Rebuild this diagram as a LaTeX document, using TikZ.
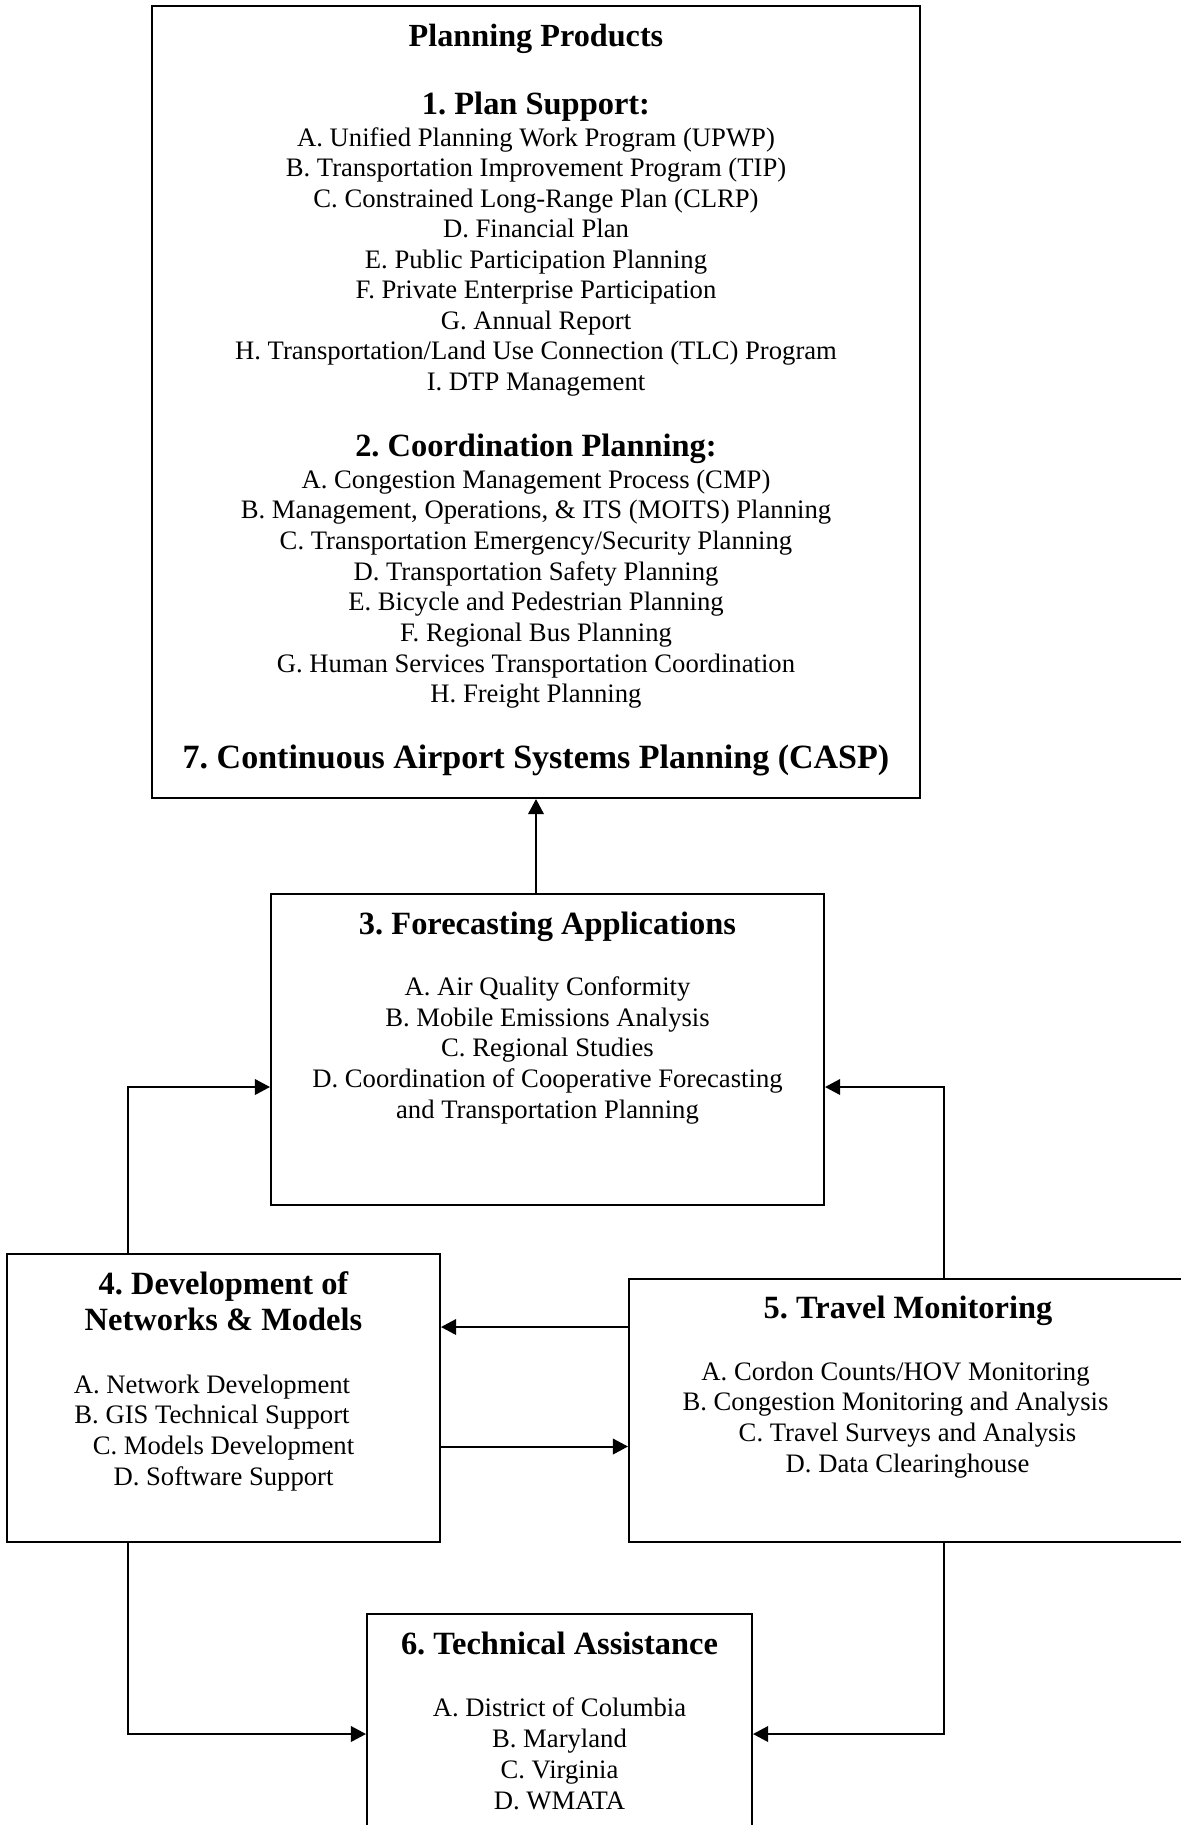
\documentclass[tikz,border=0pt]{standalone}
\usepackage{fontspec}
\setmainfont{Liberation Serif}
\usetikzlibrary{arrows.meta,fit,calc}
\frenchspacing
\tikzset{
  body/.style={anchor=base, inner sep=0pt, font=\fontsize{12}{14}\selectfont},
  headA/.style={anchor=base, inner sep=0pt, font=\fontsize{14.5}{16}\selectfont\bfseries},
  headB/.style={anchor=base, inner sep=0pt, font=\fontsize{14.6}{16}\selectfont\bfseries},
  headC/.style={anchor=base, inner sep=0pt, font=\fontsize{15.3}{17}\selectfont\bfseries},
  boxed/.style={draw, line width=0.9pt, inner sep=0pt},
  conn/.style={line width=0.9pt},
  arr/.style={line width=0.9pt, -{Triangle[length=6.8pt,width=7pt]}}
}
\begin{document}
\begin{tikzpicture}[x=0.45pt,y=-0.45pt]
\useasboundingbox (0,0) rectangle (1181,1825);
\clip (0,0) rectangle (1181,1825);
% box corners
\coordinate (b0a) at (152,6);    \coordinate (b0b) at (920,798);
\coordinate (b3a) at (271,894);  \coordinate (b3b) at (824,1205);
\coordinate (b4a) at (7,1254);   \coordinate (b4b) at (440,1542);
\coordinate (b5a) at (629,1279); \coordinate (b5b) at (1195,1542);
\coordinate (b6a) at (367,1614); \coordinate (b6b) at (752,1845);
\node[boxed, fit=(b0a)(b0b)] (b0) {};
\node[boxed, fit=(b3a)(b3b)] (b3) {};
\node[boxed, fit=(b4a)(b4b)] (b4) {};
\node[boxed, fit=(b5a)(b5b)] (b5) {};
\node[boxed, fit=(b6a)(b6b)] (b6) {};
% top box text
\node[headA] (t0) at (536,46.7) {Planning Products};
\node[headB] (t1) at (536,114) {1. Plan Support:};
\foreach \t [count=\i] in {
  A. Unified Planning Work Program (UPWP),
  B. Transportation Improvement Program (TIP),
  C. Constrained Long-Range Plan (CLRP),
  D. Financial Plan,
  E. Public Participation Planning,
  F. Private Enterprise Participation,
  G. Annual Report,
  H. Transportation/Land Use Connection (TLC) Program,
  I. DTP Management}
  \node[body] (pa\i) at (536,{146+30.5*(\i-1)}) {\t};
\node[headB] (t2) at (536,456.7) {2. Coordination Planning:};
\foreach \t [count=\i] in {
  A. Congestion Management Process (CMP),
  {B. Management, Operations, \& ITS (MOITS) Planning},
  C. Transportation Emergency/Security Planning,
  D. Transportation Safety Planning,
  E. Bicycle and Pedestrian Planning,
  F. Regional Bus Planning,
  G. Human Services Transportation Coordination,
  H. Freight Planning}
  \node[body] (pb\i) at (536,{488+30.7*(\i-1)}) {\t};
\node[headC] (t7) at (536,768) {7. Continuous Airport Systems Planning (CASP)};
% box 3
\node[headB] (t3) at (547.5,934.7) {3. Forecasting Applications};
\foreach \t [count=\i] in {
  A. Air Quality Conformity,
  B. Mobile Emissions Analysis,
  C. Regional Studies,
  D. Coordination of Cooperative Forecasting,
  and Transportation Planning}
  \node[body] (pc\i) at (547.5,{995.7+30.6*(\i-1)}) {\t};
% box 4
\node[headB] (t4a) at (223.5,1294) {4. Development of};
\node[headB] (t4b) at (223.5,1330) {Networks \& Models};
\node[body] (pd1) at (212,1393) {A. Network Development};
\node[body] (pd2) at (212,1423.7) {B. GIS Technical Support};
\node[body] (pd3) at (223.5,1454.4) {C. Models Development};
\node[body] (pd4) at (223.5,1485) {D. Software Support};
% box 5
\node[headB] (t5) at (908,1318) {5. Travel Monitoring};
\node[body] (pe1) at (895.5,1380) {A. Cordon Counts/HOV Monitoring};
\node[body] (pe2) at (895.5,1410.7) {B. Congestion Monitoring and Analysis};
\node[body] (pe3) at (907.5,1441.4) {C. Travel Surveys and Analysis};
\node[body] (pe4) at (907.5,1472) {D. Data Clearinghouse};
% box 6
\node[headB] (t6) at (559.5,1654) {6. Technical Assistance};
\foreach \t [count=\i] in {
  A. District of Columbia,
  B. Maryland,
  C. Virginia,
  D. WMATA}
  \node[body] (pf\i) at (559.5,{1716.7+30.8*(\i-1)}) {\t};
% junction coordinates
\coordinate (j1) at (127.7,1087);
\coordinate (j2) at (944,1087);
\coordinate (j3) at (0,1327);
\coordinate (j4) at (0,1446.5);
\coordinate (j5) at (127.7,1734);
\coordinate (j6) at (944,1734);
% connectors
\draw[arr] (b0.south |- b3.north) -- (b0.south);
\draw[arr] (j1 |- b4.north) -- (j1) -- (j1 -| b3.west);
\draw[arr] (j2 |- b5.north) -- (j2) -- (j2 -| b3.east);
\draw[arr] (j3 -| b5.west) -- (j3 -| b4.east);
\draw[arr] (j4 -| b4.east) -- (j4 -| b5.west);
\draw[arr] (j5 |- b4.south) -- (j5) -- (j5 -| b6.west);
\draw[arr] (j6 |- b5.south) -- (j6) -- (j6 -| b6.east);
\end{tikzpicture}
\end{document}
